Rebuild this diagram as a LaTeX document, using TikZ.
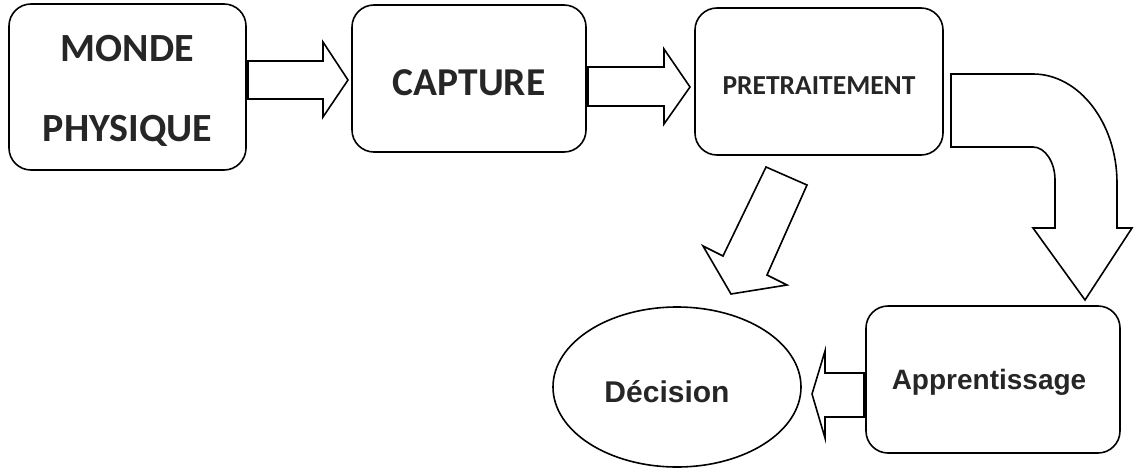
\documentclass[tikz,border=0pt]{standalone}
\usepackage{fontspec}
\newfontfamily\calfont{Carlito}
\newfontfamily\arifont{Liberation Sans}
\usetikzlibrary{shapes.geometric}
\newcommand{\txtdown}[2]{\raisebox{-#1}[\height][\depth]{#2}}
\tikzset{
  x=1pt,y=-1pt,
  every path/.style={line width=1.6pt,line join=round},
  rbox/.style={draw=black,rectangle,rounded corners=22pt,inner sep=0pt,text=black!85,align=center},
  blockarrow/.style={draw=black,fill=white,line width=1.6pt,line join=miter},
}
\begin{document}
\begin{tikzpicture}
\useasboundingbox (0,0) rectangle (1134,471);
% boxes
\node[rbox,minimum width=237pt,minimum height=166pt,font=\calfont\bfseries\fontsize{40}{81}\selectfont] (monde) at (127.5,87) {\txtdown{4pt}{MONDE}\\\txtdown{3pt}{PHYSIQUE}};
\node[rbox,minimum width=234pt,minimum height=147pt,font=\calfont\bfseries\fontsize{39.5}{45}\selectfont] (capture) at (469,78.5) {\txtdown{4.5pt}{CAPTURE}};
\node[rbox,minimum width=248pt,minimum height=147pt,font=\calfont\bfseries\fontsize{27.5}{30}\selectfont] (pre) at (819,81.5) {\txtdown{4pt}{PRETRAITEMENT}};
\node[rbox,minimum width=254pt,minimum height=147pt,font=\arifont\bfseries\fontsize{28}{30}\selectfont] (app) at (993,379.5) {\hspace*{-8pt}\txtdown{3pt}{Apprentissage}};
\node[draw=black,ellipse,minimum width=248pt,minimum height=160pt,inner sep=0pt,text=black!85,font=\arifont\bfseries\fontsize{30}{33}\selectfont] (dec) at (677,387) {\hspace*{-20pt}\txtdown{5pt}{Décision}};
% arrow monde -> capture
\draw[blockarrow] (248,61) -- (323,61) -- (323,42) -- (348,80) -- (323,117) -- (323,99) -- (248,99) -- cycle;
% arrow capture -> pretraitement
\draw[blockarrow] (588,67) -- (664,67) -- (664,49) -- (690,87) -- (664,124) -- (664,106) -- (588,106) -- cycle;
% curved arrow pretraitement -> apprentissage
\draw[blockarrow] (951,74) -- (1033,74) .. controls (1079,74) and (1117,123) .. (1117,183)
  -- (1117,228) -- (1132,228) -- (1085,300) -- (1033,228) -- (1055,228) -- (1055,180)
  .. controls (1055,162) and (1045,147) .. (1033,147) -- (951,147) -- cycle;
% arrow apprentissage -> decision
\draw[blockarrow] (864,373) -- (825,373) -- (825,351) -- (812,394) -- (825,438) -- (825,417) -- (864,417) -- cycle;
% diagonal arrow pretraitement -> decision
\draw[blockarrow] (766,167) -- (807,185) -- (767,275) -- (787,285) -- (731,294) -- (703,246) -- (723,256) -- cycle;
\end{tikzpicture}
\end{document}
